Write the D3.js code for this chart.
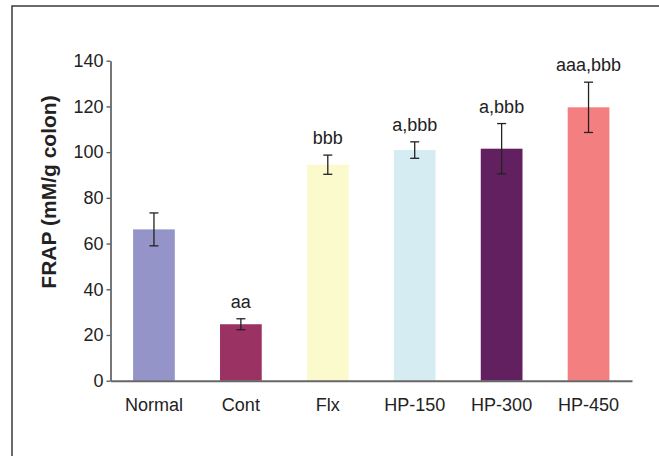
<!DOCTYPE html>
<html>
<head>
<meta charset="utf-8">
<script src="https://cdn.jsdelivr.net/npm/d3@7/dist/d3.min.js"></script>
<style>
  html, body { margin: 0; padding: 0; background: #fff; }
  svg { display: block; font-family: Arial, "Liberation Sans", Helvetica, sans-serif; }
</style>
</head>
<body>
<svg id="chart" width="659" height="456"></svg>
<script>
const categories = ["Normal", "Cont", "Flx", "HP-150", "HP-300", "HP-450"];
const values = [66.2, 24.7, 94.5, 100.9, 101.5, 119.6];
const errors = [7.2, 2.4, 4.2, 3.6, 11.0, 11.0];
const annotations = ["", "aa", "bbb", "a,bbb", "a,bbb", "aaa,bbb"];
const colors = ["#9494c8", "#9b3264", "#fafacd", "#d5ecf3", "#632060", "#f47f81"];
const yTicks = [0, 20, 40, 60, 80, 100, 120, 140];
const yTitle = "FRAP (mM/g colon)";

const svg = d3.select("#chart");

// frame border (only left and top visible in reference)
svg.append("rect")
  .attr("x", 12).attr("y", 6)
  .attr("width", 700).attr("height", 500)
  .attr("fill", "none").attr("stroke", "#3a3a3a").attr("stroke-width", 1.5);

const x = d3.scaleBand()
  .domain(categories)
  .range([110.5, 632])
  .paddingInner(0.52)
  .paddingOuter(0.26);

const y = d3.scaleLinear().domain([0, 140]).range([380.7, 60.7]);

// bars
svg.append("g").selectAll("rect")
  .data(categories)
  .join("rect")
  .attr("x", d => x(d))
  .attr("width", x.bandwidth())
  .attr("y", (d, i) => y(values[i]))
  .attr("height", (d, i) => y(0) - y(values[i]))
  .attr("fill", (d, i) => colors[i]);

// error bars
const eg = svg.append("g").attr("stroke", "#222").attr("stroke-width", 1.3).attr("fill", "none");
categories.forEach((c, i) => {
  const cx = x(c) + x.bandwidth() / 2;
  const top = y(values[i] + errors[i]);
  const bot = y(values[i] - errors[i]);
  eg.append("line").attr("x1", cx).attr("x2", cx).attr("y1", top).attr("y2", bot);
  eg.append("line").attr("x1", cx - 4.5).attr("x2", cx + 4.5).attr("y1", top).attr("y2", top);
  eg.append("line").attr("x1", cx - 4.5).attr("x2", cx + 4.5).attr("y1", bot).attr("y2", bot);
});

// annotations
svg.append("g").selectAll("text")
  .data(categories)
  .join("text")
  .attr("x", d => x(d) + x.bandwidth() / 2)
  .attr("y", (d, i) => y(values[i] + errors[i]) - 11)
  .attr("text-anchor", "middle")
  .attr("font-size", 18)
  .attr("fill", "#222")
  .text((d, i) => annotations[i]);

// y axis
const yAxis = svg.append("g")
  .attr("transform", "translate(110.5,0)")
  .call(d3.axisLeft(y).tickValues(yTicks).tickSize(4).tickPadding(3).tickSizeOuter(0));
yAxis.select(".domain").attr("stroke", "#555").attr("stroke-width", 1.6);
yAxis.selectAll(".tick line").attr("stroke", "#555").attr("stroke-width", 1.3);
yAxis.selectAll(".tick text").attr("font-size", 18).attr("fill", "#222").attr("font-family", "Arial, 'Liberation Sans', sans-serif");

// x axis
const xAxis = svg.append("g")
  .attr("transform", "translate(0,380.7)")
  .call(d3.axisBottom(x).tickSize(0).tickPadding(18));
xAxis.select(".domain").attr("stroke", "#666").attr("stroke-width", 2);
xAxis.selectAll(".tick text").attr("font-size", 18).attr("fill", "#222").attr("font-family", "Arial, 'Liberation Sans', sans-serif");

// y title
svg.append("text")
  .attr("transform", "translate(56,192) rotate(-90)")
  .attr("text-anchor", "middle")
  .attr("font-size", 21)
  .attr("font-weight", "bold")
  .attr("fill", "#222")
  .text(yTitle);
</script>
</body>
</html>
